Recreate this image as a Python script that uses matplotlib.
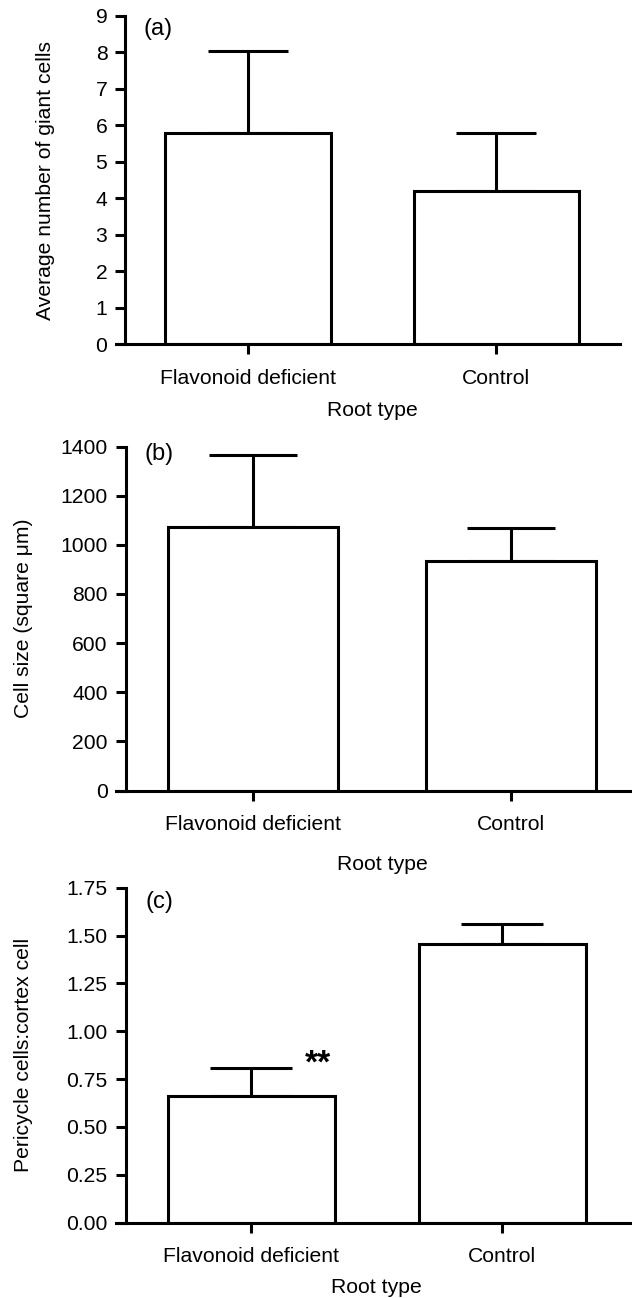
import matplotlib
matplotlib.use('Agg')
import matplotlib.pyplot as plt

plt.rcParams['font.family'] = ['Liberation Sans', 'DejaVu Sans']

# Dados
root_types = ['Flavonoid deficient', 'Control']

giant_mean = [5.80, 4.19]
giant_err = [2.23, 1.60]

size_mean = [1072, 935]
size_err = [295, 133]

ratio_mean = [0.662, 1.457]
ratio_err = [0.148, 0.101]

panel_labels = ['(a)', '(b)', '(c)']
ylabels = ['Average number of giant cells',
           'Cell size (square \u03bcm)',
           'Pericycle cells:cortex cell']
yticks_list = [
    list(range(0, 10)),
    list(range(0, 1401, 200)),
    [0.0, 0.25, 0.5, 0.75, 1.0, 1.25, 1.5, 1.75],
]
ytick_fmt = ['{:d}', '{:d}', '{:.2f}']

W, H = 632, 1298
LW = 2.2
FS = 15.2

fig = plt.figure(figsize=(W / 100, H / 100), dpi=100)

# caixas dos eixos em pixels: (esquerda, direita, topo, base)
boxes = [(115.5, 620, 15.8, 344.5), (115.5, 632, 446.5, 790.6), (115.5, 630, 887.7, 1222.5)]
xlims = [(-0.533, 1.498), (-0.534, 1.468), (-0.54, 1.508)]
spine_x = [-0.493, -0.4945, -0.5]
bar_w = [0.666, 0.659, 0.666]
caps = [29, 31.5, 29.7]
ylims = [(0, 9), (0, 1400), (0, 1.75)]
letter_y = [8.65, 1370, 1.676]
xlabel_off = [66, 74, 65]
ylabel_px = [46, 24, 24]

data = [(giant_mean, giant_err), (size_mean, size_err), (ratio_mean, ratio_err)]

for i in range(3):
    l, r, t, b = boxes[i]
    ax = fig.add_axes([l / W, 1 - b / H, (r - l) / W, (b - t) / H])
    mean, err = data[i]
    x = [0, 1]
    ax.bar(x, mean, width=bar_w[i], color='white', edgecolor='black',
           linewidth=LW, zorder=2)
    ax.errorbar(x, mean, yerr=[[0, 0], err], fmt='none', ecolor='black',
                elinewidth=LW, capsize=caps[i], capthick=LW, zorder=1)
    ax.set_xlim(*xlims[i])
    ax.set_ylim(*ylims[i])
    ax.spines['left'].set_position(('data', spine_x[i]))
    ax.spines['left'].set_bounds(*ylims[i])
    ax.spines['top'].set_visible(False)
    ax.spines['right'].set_visible(False)
    for s in ['left', 'bottom']:
        ax.spines[s].set_linewidth(LW)
    ax.set_xticks(x)
    ax.set_xticklabels(root_types)
    ax.set_yticks(yticks_list[i])
    ax.set_yticklabels([ytick_fmt[i].format(v) for v in yticks_list[i]])
    ax.tick_params(axis='both', width=LW, length=7, labelsize=FS)
    ax.tick_params(axis='y', pad=6)
    ax.tick_params(axis='x', pad=10.5)
    ax.patch.set_visible(False)

    ax.text(-0.42, letter_y[i], panel_labels[i], fontsize=17, va='center', ha='left')

    ax_h = b - t
    ax_w = r - l
    ax.set_xlabel('Root type', fontsize=FS, va='center')
    ax.xaxis.set_label_coords((0.5 - xlims[i][0]) / (xlims[i][1] - xlims[i][0]),
                              -xlabel_off[i] / ax_h)
    ax.set_ylabel(ylabels[i], fontsize=FS, va='center')
    ax.yaxis.set_label_coords((ylabel_px[i] - l) / ax_w, 0.5)

    if i == 2:
        ax.text(0.266, 0.83, '**', fontsize=24, fontweight='bold',
                ha='center', va='center')

fig.savefig('out.png', dpi=100)
